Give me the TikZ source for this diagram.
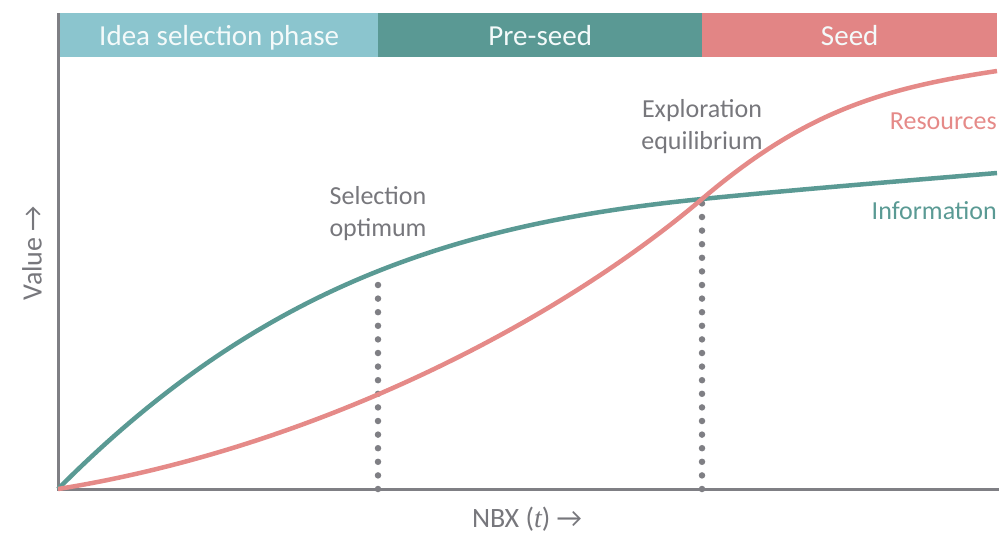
\documentclass[tikz,border=0pt]{standalone}
\usepackage{fontspec}
\setmainfont{Carlito}
\newfontfamily\ttvarfont{Liberation Serif}
\definecolor{ideac}{HTML}{8BC5CE}
\definecolor{prec}{HTML}{5A9994}
\definecolor{seedc}{HTML}{E28585}
\definecolor{infoc}{HTML}{5A9A94}
\definecolor{resc}{HTML}{E58A88}
\definecolor{axc}{HTML}{7F7F84}
\definecolor{labc}{HTML}{77777C}
\definecolor{hdtext}{HTML}{F4FAFA}
\begin{document}
\begin{tikzpicture}[x=1pt,y=-1pt,
  phasebox/.style={draw=none,minimum height=44pt,inner sep=0pt,text height=23pt,text depth=3pt,anchor=north west,text=hdtext,font=\fontsize{29}{35}\selectfont},
  lab/.style={text=labc,align=center,font=\fontsize{26}{32}\selectfont,inner sep=0pt},
  axlab/.style={text=labc,font=\fontsize{28}{32}\selectfont,inner sep=0pt},
  curve/.style={line width=4.5pt},
  dotline/.style={draw=axc,line width=6.5pt,line cap=round,dash pattern=on 0pt off 13.6pt},
  axis/.style={draw=axc,line width=3pt}]
\useasboundingbox (0,0) rectangle (999,536);
% header
\node[phasebox,fill=ideac,minimum width=318pt] (idea) at (60,13) {Idea selection phase};
\node[phasebox,fill=prec,minimum width=324pt] (pre) at (378,13) {Pre-seed};
\node[phasebox,fill=seedc,minimum width=295pt] (seed) at (702,13) {Seed};
% axes
\coordinate (top) at (58,13);
\coordinate (o) at (58,489);
\coordinate (xend) at (999,489);
\draw[axis] (top) -- (o) -- (xend);
% dotted
\coordinate (d1b) at (378,489);
\coordinate (d1t) at (378,280);
\coordinate (d2b) at (702,489);
\coordinate (d2t) at (702,203);
\draw[dotline] (d1b) -- (d1t);
\draw[dotline] (d2b) -- (d2t);
% curves
\coordinate (cross) at (702,199);
\coordinate (infoend) at (997,173);
\coordinate (resend) at (997,71);
\draw[curve,draw=infoc] (o) .. controls (258,288) and (452,224) .. (cross)
  .. controls (800,189.2) and (900,181.2) .. (infoend);
\draw[curve,draw=resc] (o) .. controls (308,449) and (552,326.5) .. (cross)
  .. controls (802,114) and (877,89) .. (resend);
% labels
\node[lab] (selopt) at (378,214) {Selection\\optimum};
\node[lab] (explo) at (702,127) {Exploration\\equilibrium};
\node[lab,text=resc,anchor=east] (res) at (997,121) {Resources};
\node[lab,text=infoc,anchor=east] (info) at (997,211) {Information};
\node[axlab,rotate=90] (val) at (32,253) {Value →};
\node[axlab] (nbx) at (527,519) {NBX ({\ttvarfont\itshape t}) →};
\end{tikzpicture}
\end{document}
